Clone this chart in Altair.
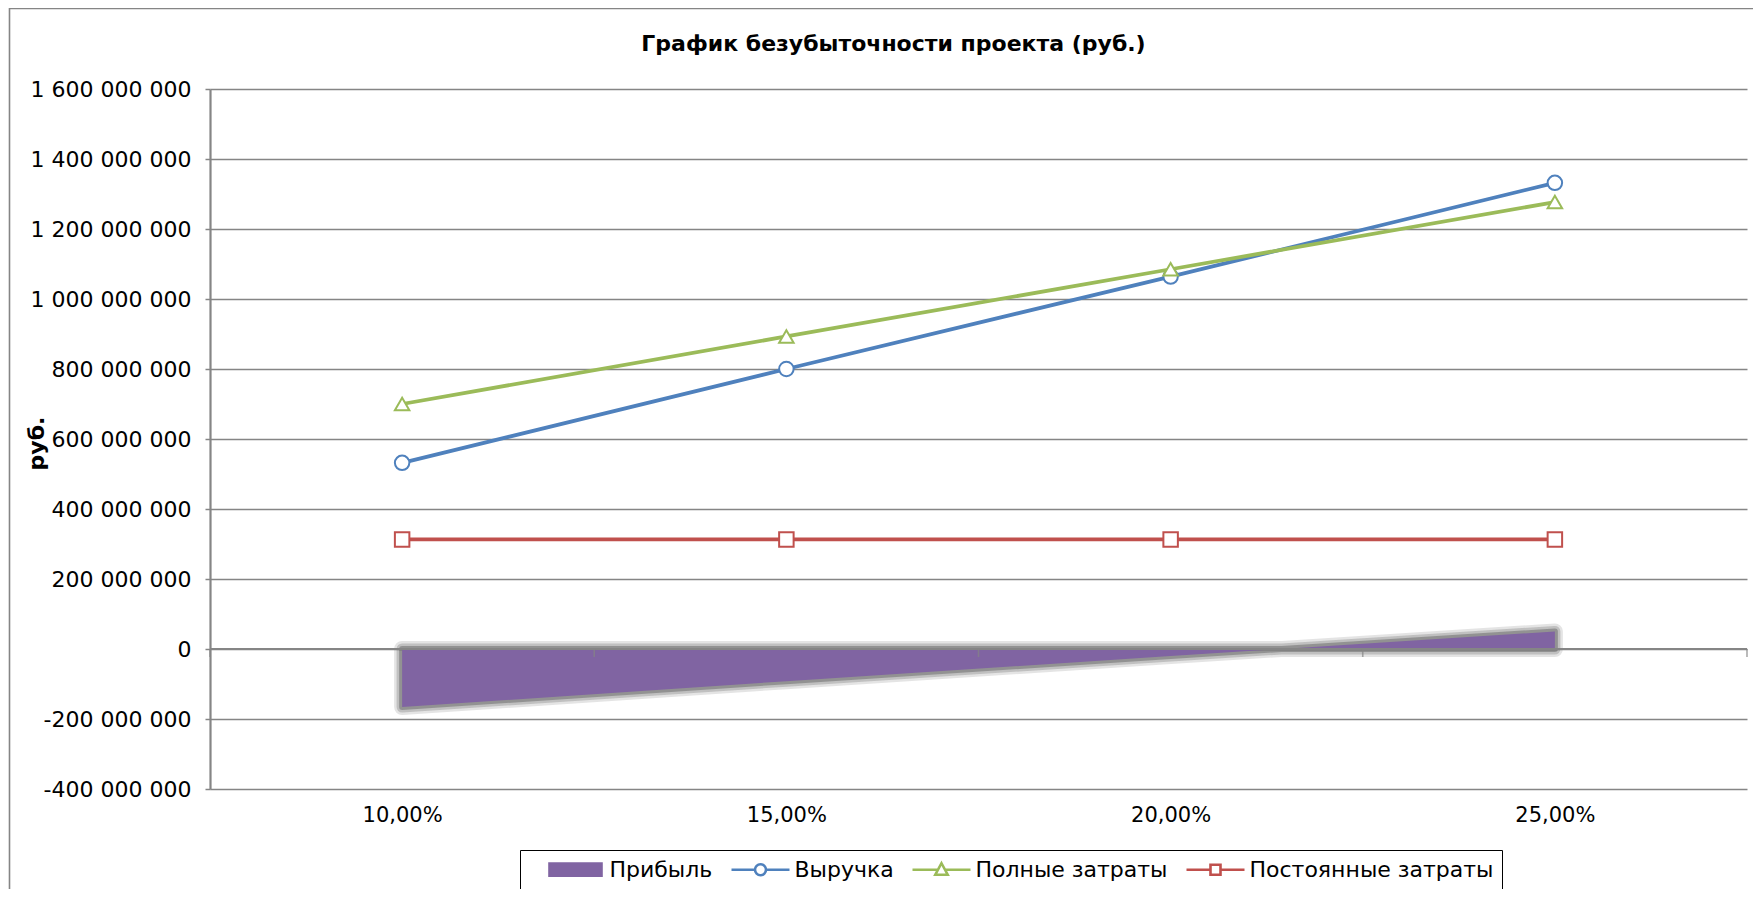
import altair as alt
import pandas as pd

# ---- data ----
pct = [10, 15, 20, 25]                                   # x categories (%)
revenue = [532e6, 800e6, 1064e6, 1332e6]                 # Выручка
full_costs = [700e6, 893e6, 1085e6, 1277e6]              # Полные затраты
fixed_costs = [313e6, 313e6, 313e6, 313e6]               # Постоянные затраты
profit = [-166e6, -92e6, -20e6, 50e6]                    # Прибыль

series_names = ["Прибыль", "Выручка", "Полные затраты", "Постоянные затраты"]
series_colors = ["#8064A2", "#4F81BD", "#9BBB59", "#C0504D"]
marker_shapes = ["circle", "triangle-up", "square"]
y_ticks = [-400e6, -200e6, 0, 200e6, 400e6, 600e6, 800e6, 1000e6, 1200e6, 1400e6, 1600e6]
x_boundaries = [p - 2.5 for p in pct] + [pct[-1] + 2.5]

FONT = "DejaVu Sans"
GRID = "#858585"

line_values = [revenue, full_costs, fixed_costs]
profit_df = pd.DataFrame({"pct": pct, "value": profit})
bound_df = pd.DataFrame({"pct": x_boundaries})

x_scale = alt.Scale(domain=[x_boundaries[0], x_boundaries[-1]], nice=False, zero=False)
y_scale = alt.Scale(domain=[y_ticks[0], y_ticks[-1]], nice=False)

x_axis = alt.Axis(values=pct, labelExpr="replace(format(datum.value, '.2f'), '.', ',') + '%'",
                  domain=False, ticks=False, grid=False, labelFont=FONT, labelFontSize=21,
                  labelColor="black", labelPadding=15, title=None)
y_axis = alt.Axis(values=y_ticks,
                  labelExpr="(datum.value < 0 ? '-' : '') + replace(format(abs(datum.value), ','), regexp(',', 'g'), ' ')",
                  grid=True, gridColor=GRID, gridWidth=1.3,
                  domain=True, domainColor=GRID, domainWidth=2.2,
                  ticks=True, tickColor=GRID, tickSize=5, tickWidth=1.5,
                  labelFont=FONT, labelFontSize=22, labelColor="black", labelPadding=14,
                  title="руб.", titleFont=FONT, titleFontSize=22, titleFontWeight="bold",
                  titleColor="black", titleAngle=270, titleX=-167, titleY=354,
                  titleAlign="center", titleBaseline="alphabetic")
X = alt.X("pct:Q", scale=x_scale, axis=x_axis)
Y = alt.Y("value:Q", scale=y_scale, axis=y_axis)

layers = []

# profit area: soft shadow + fill
base_area = alt.Chart(profit_df)
for w, op in [(16, 0.12), (11, 0.18), (6, 0.28)]:
    layers.append(base_area.mark_area(fill="#000000", fillOpacity=0.0, stroke="#1e1e1e",
                                      strokeWidth=w, strokeOpacity=op, strokeJoin="round")
                  .encode(x=X, y=Y))
layers.append(base_area.mark_area(color="#8064A2", opacity=1).encode(x=X, y=Y))

# horizontal category axis at zero with boundary ticks
layers.append(alt.Chart(profit_df).mark_rule(color=GRID, strokeWidth=2.2).encode(y=alt.datum(0)))
layers.append(alt.Chart(bound_df).mark_tick(orient="vertical", color=GRID, size=8, thickness=1.6,
                                            yOffset=4).encode(x=X, y=alt.datum(0)))

# line series with markers
for name, vals, col, shp in zip(series_names[1:], line_values, series_colors[1:], marker_shapes):
    df = pd.DataFrame({"pct": pct, "value": vals})
    layers.append(alt.Chart(df).mark_line(color=col, strokeWidth=3.8).encode(x=X, y=Y))
    layers.append(alt.Chart(df).mark_point(shape=shp, size=210, filled=True, fill="white",
                                           stroke=col, strokeWidth=2, opacity=1)
                  .encode(x=X, y=Y))

# legend carrier (invisible marks, legend only)
legend_paths = [
    "M-2.6,-0.6H2.6V0.6H-2.6Z",
    "M-2.9,0H-0.55M0.55,0H2.9M0.55,0A0.55,0.55,0,1,1,-0.55,0A0.55,0.55,0,1,1,0.55,0Z",
    "M-2.9,0H-0.35M0.35,0H2.9M0,-0.65L0.62,0.5H-0.62Z",
    "M-2.9,0H-0.5M0.5,0H2.9M-0.5,-0.5H0.5V0.5H-0.5Z",
]
legend_fills = ["#8064A2", "white", "white", "white"]
leg = alt.Legend(title=None, orient="none", legendX=310, legendY=761, direction="horizontal",
                 strokeColor="black", fillColor="white", padding=8, symbolSize=400,
                 symbolStrokeWidth=2.6, symbolOffset=36, labelOffset=22.5, columnPadding=0,
                 labelFont=FONT, labelFontSize=22, labelColor="black", symbolOpacity=1,
                 labelLimit=500)
legend_df = pd.DataFrame({"series": series_names})
layers.append(alt.Chart(legend_df).mark_point(opacity=0, size=400).encode(
    shape=alt.Shape("series:N", scale=alt.Scale(domain=series_names, range=legend_paths), legend=leg),
    stroke=alt.Stroke("series:N", scale=alt.Scale(domain=series_names, range=series_colors), legend=leg),
    fill=alt.Fill("series:N", scale=alt.Scale(domain=series_names, range=legend_fills), legend=leg),
))

# outer chart border (left and top)
border_df = pd.DataFrame({"k": [0]})
layers.append(alt.Chart(border_df).mark_rule(color=GRID, strokeWidth=1.6, clip=False).encode(
    x=alt.value(-200.5), y=alt.value(-81), y2=alt.value(800)))
layers.append(alt.Chart(border_df).mark_rule(color=GRID, strokeWidth=1.6, clip=False).encode(
    x=alt.value(-200.5), x2=alt.value(1545), y=alt.value(-80.5)))

chart = alt.layer(*layers).properties(
    width=1537, height=700,
    padding={"left": 202, "top": 81, "right": 6, "bottom": 100},
    autosize=alt.AutoSizeParams(type="none"),
    title=alt.Title("График безубыточности проекта (руб.)", font=FONT, fontSize=22,
                    fontWeight="bold", color="black", anchor="middle", frame="group",
                    dx=-85, dy=23, offset=-42.5, baseline="alphabetic"),
).configure_view(stroke=None)

chart.save("out.html", embed_options={"renderer": "svg", "actions": False})
